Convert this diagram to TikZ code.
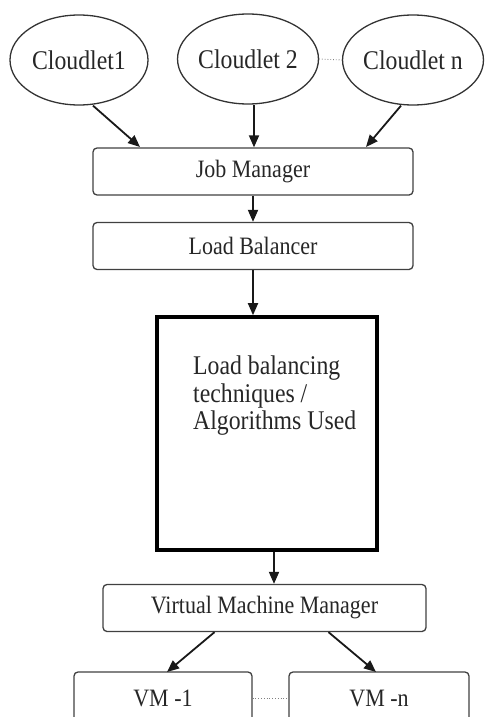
\documentclass[tikz,border=0pt]{standalone}
\usepackage{fontspec}
\setmainfont{Liberation Serif}
\newfontfamily\labelfont[FakeStretch=0.88]{Liberation Serif}
\usetikzlibrary{shapes.geometric,arrows.meta}
\begin{document}
\begin{tikzpicture}[x=1pt,y=-1pt,
  every node/.style={text=black!85, inner sep=0pt},
  cloud/.style={ellipse, draw=black!80, line width=1.3pt, minimum width=138pt, minimum height=90pt,
    font=\labelfont\fontsize{27}{30}\selectfont},
  stage/.style={draw=black!75, line width=1.3pt, rounded corners=4pt, minimum height=47pt,
    font=\labelfont\fontsize{25}{28}\selectfont},
  core/.style={draw=black, line width=3.6pt, minimum width=220pt, minimum height=233pt},
  link/.style={line width=1.8pt, draw=black!90, -{Triangle[length=12pt,width=10pt]}},
  gap/.style={dotted, line width=0.8pt, draw=black!50}]
\useasboundingbox (0,0) rectangle (489,717);
\clip (0,0) rectangle (489,717);

% sources
\node[cloud] (c1) at (79,60) {Cloudlet1};
\node[cloud] (c2) at (248,59) {Cloudlet 2};
\node[cloud] (cn) at (413,60) {Cloudlet n};
\draw[gap] (c2.east) -- (cn.west);

% managers
\node[stage, minimum width=320pt] (job) at (253,171.5) {Job Manager};
\node[stage, minimum width=320pt] (lb) at (253,246) {Load Balancer};

% algorithm block
\node[core] (alg) at (267,433.5) {};
\node[anchor=north west, align=left, font=\labelfont\fontsize{27}{27.5}\selectfont] (algtext) at (193,356)
  {Load balancing\\techniques /\\Algorithms Used};

% virtual machines
\node[stage, minimum width=323pt] (vmm) at (264.5,608) {Virtual Machine Manager};
\node[stage, minimum width=178pt, minimum height=52pt] (vm1) at (163,698) {VM -1};
\node[stage, minimum width=180pt, minimum height=52pt] (vmn) at (379,698) {VM -n};
\draw[gap] (vm1.east) -- (vmn.west);

% flow
\draw[link] (c1.south) ++(14,0) coordinate (c1s) -- (140,147);
\draw[link] (c2.south) ++(6,0) coordinate (c2s) -- (c2s |- job.north);
\draw[link] (cn.south) ++(-12,0) coordinate (cns) -- (366,147);
\draw[link] (job.south) -- (lb.north);
\draw[link] (lb.south) -- (lb.south |- alg.north);
\draw[link] (alg.south) ++(7,0) coordinate (algs) -- (algs |- vmm.north);
\draw[link] (vmm.south) ++(-50,0) coordinate (vl) -- (167,672);
\draw[link] (vmm.south) ++(64,0) coordinate (vr) -- (376,672);
\end{tikzpicture}
\end{document}
